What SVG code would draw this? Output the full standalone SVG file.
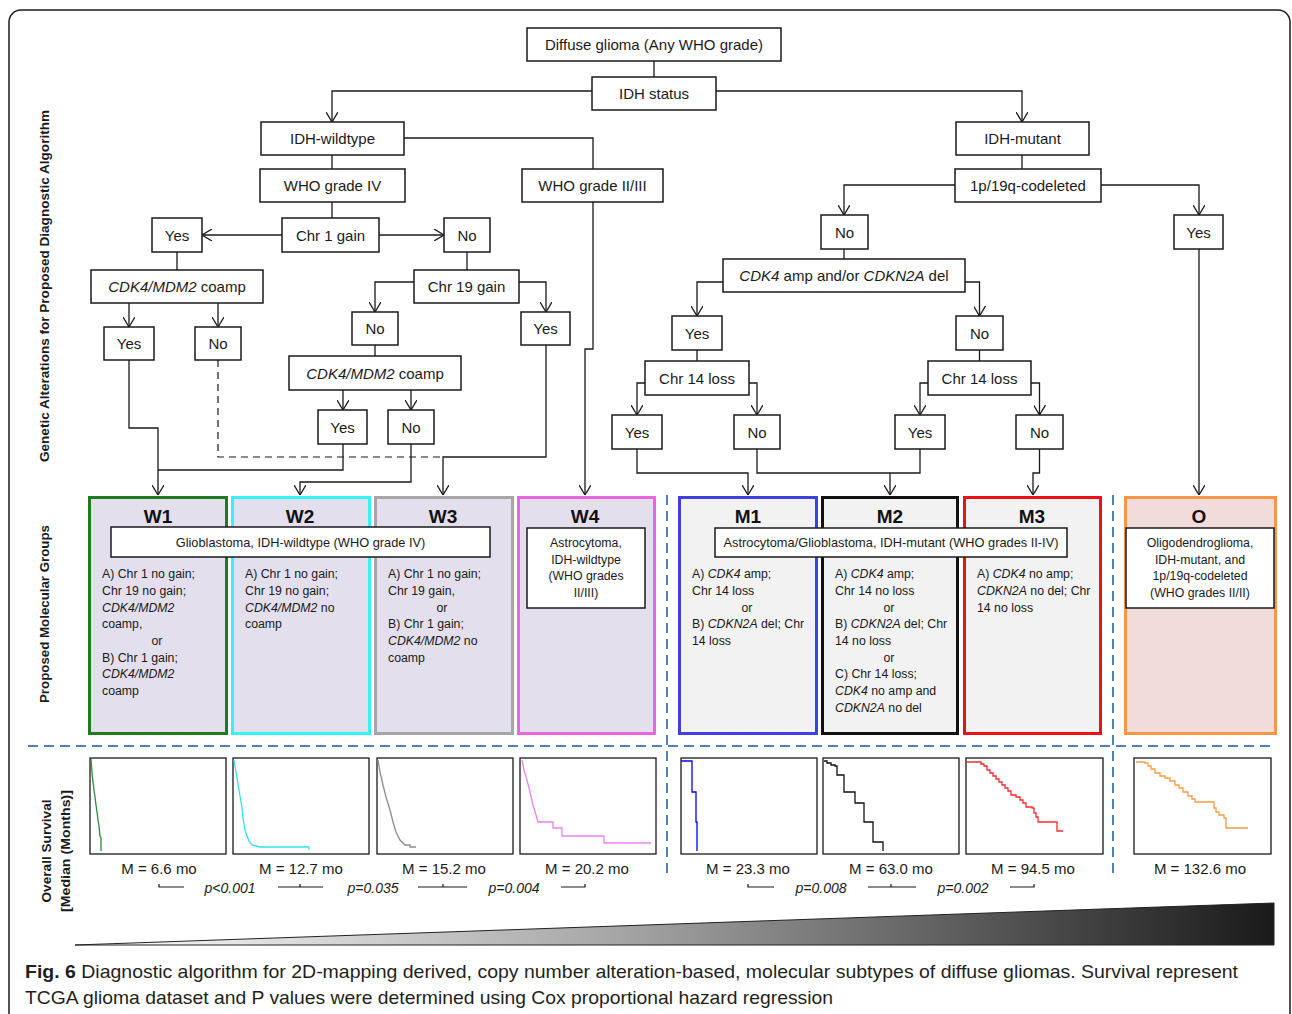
<svg xmlns="http://www.w3.org/2000/svg" width="1292" height="1014" viewBox="0 0 1292 1014">
<defs>
<style>
.box{fill:#fff;stroke:#1a1a1a;stroke-width:1.5}
.lbl{font-family:"Liberation Sans",Arial,sans-serif;font-size:15px;fill:#1a1a1a;text-anchor:middle}
.body{font-family:"Liberation Sans",Arial,sans-serif;font-size:12.3px;fill:#1a1a1a}
.ctr{text-anchor:middle}
.sub{font-family:"Liberation Sans",Arial,sans-serif;font-size:12.8px;fill:#1a1a1a;text-anchor:middle}
.title{font-family:"Liberation Sans",Arial,sans-serif;font-size:19px;font-weight:bold;fill:#111;text-anchor:middle}
.it{font-style:italic}
.conn{fill:none;stroke:#1a1a1a;stroke-width:1.3}
.arr{marker-end:url(#ah)}
.dashk{fill:none;stroke:#1a1a1a;stroke-width:1.2;stroke-dasharray:7 5}
.dash{fill:none;stroke:#4f81bd;stroke-width:2;stroke-dasharray:10 6}
.km{fill:#fff;stroke:#1a1a1a;stroke-width:1.3}
.curve{fill:none;stroke-width:1.3}
.med{font-family:"Liberation Sans",Arial,sans-serif;font-size:15px;fill:#1a1a1a;text-anchor:middle}
.pv{font-family:"Liberation Sans",Arial,sans-serif;font-size:14px;font-style:italic;fill:#1a1a1a;text-anchor:middle}
.brk{fill:none;stroke:#1a1a1a;stroke-width:1.2}
.side{font-family:"Liberation Sans",Arial,sans-serif;font-size:12.5px;font-weight:bold;fill:#1a1a1a;text-anchor:middle}
.cap{font-family:"Liberation Sans",Arial,sans-serif;font-size:19px;fill:#231f20}
.wfill{fill:#e4dfec;stroke-width:3}
.mfill{fill:#f2f2f2;stroke-width:3}
</style>
<marker id="ah" viewBox="0 0 10 12" refX="10" refY="6" markerWidth="10" markerHeight="12" markerUnits="userSpaceOnUse" orient="auto">
<path d="M0,0 L10,6 L0,12" fill="none" stroke="#1a1a1a" stroke-width="1.3"/>
</marker>
<linearGradient id="wedge" x1="75" y1="0" x2="1274" y2="0" gradientUnits="userSpaceOnUse">
<stop offset="0" stop-color="#ffffff"/>
<stop offset="0.45" stop-color="#a6a6a6"/>
<stop offset="1" stop-color="#1a1a1a"/>
</linearGradient>
</defs>
<rect x="0" y="0" width="1292" height="1014" fill="#fff"/>
<rect x="9" y="10" width="1281" height="1030" rx="12" fill="none" stroke="#1a1a1a" stroke-width="1.5"/>

<!-- side labels -->
<g id="side-labels">
<text class="side" transform="translate(44,286) rotate(-90)" y="4.5" textLength="352" lengthAdjust="spacingAndGlyphs">Genetic Alterations for Proposed Diagnostic Algorithm</text>
<text class="side" transform="translate(44,614) rotate(-90)" y="4.5" textLength="178" lengthAdjust="spacingAndGlyphs">Proposed Molecular Groups</text>
<text class="side" transform="translate(46,851) rotate(-90)" y="4.5" textLength="103" lengthAdjust="spacingAndGlyphs">Overall Survival</text>
<text class="side" transform="translate(65,851) rotate(-90)" y="4.5" textLength="122" lengthAdjust="spacingAndGlyphs">[Median (Months)]</text>
</g>

<!-- dashed separators -->
<g id="separators">
<path class="dash" d="M28,746 H1274"/>
<path class="dash" d="M667,495 V878"/>
<path class="dash" d="M1113,495 V878"/>
</g>

<!-- connectors -->
<g id="connectors">
<path class="conn" d="M654,61 V77"/>
<path class="conn arr" d="M592,91 H332 V122"/>
<path class="conn arr" d="M716,91 H1022 V122"/>
<path class="conn" d="M332,155 V169"/>
<path class="conn" d="M404,138 H593 V169"/>
<path class="conn" d="M1022,155 V169"/>
<path class="conn arr" d="M955,185 H844 V215"/>
<path class="conn arr" d="M1101,185 H1199 V215"/>
<path class="conn" d="M332,202 V218"/>
<path class="conn arr" d="M282,235 H202"/>
<path class="conn arr" d="M379,235 H444"/>
<path class="conn" d="M177,252 V270"/>
<path class="conn arr" d="M129,303 V327"/>
<path class="conn arr" d="M218,303 V327"/>
<path class="conn" d="M467,252 V270"/>
<path class="conn arr" d="M414,282 H375 V312"/>
<path class="conn arr" d="M519,282 H546 V312"/>
<path class="conn" d="M375,345 V356"/>
<path class="conn arr" d="M343,390 V410"/>
<path class="conn arr" d="M411,390 V410"/>
<path class="conn arr" d="M129,360 V428 H158 V495"/>
<path class="conn" d="M343,444 V470 H158"/>
<path class="conn arr" d="M411,444 V482 H300 V495"/>
<path class="conn arr" d="M546,345 V457 H443 V495"/>
<path class="dashk" d="M218,360 V457 H443"/>
<path class="conn arr" d="M593,202 V349 H585 V495"/>
<path class="conn" d="M844,249 V259"/>
<path class="conn arr" d="M723,282 H697 V316"/>
<path class="conn arr" d="M965,282 H979.5 V316"/>
<path class="conn" d="M697,350 V361"/>
<path class="conn" d="M979.5,350 V361"/>
<path class="conn arr" d="M645,383 H637 V415"/>
<path class="conn arr" d="M749,383 H757 V415"/>
<path class="conn arr" d="M928,383 H920 V415"/>
<path class="conn arr" d="M1031,383 H1039.5 V415"/>
<path class="conn arr" d="M637,449 V473 H748 V495"/>
<path class="conn" d="M757,449 V473 H920 V449"/>
<path class="conn arr" d="M890,473 V495"/>
<path class="conn arr" d="M1039.5,449 V473 H1033 V495"/>
<path class="conn arr" d="M1199,249 V495"/>
</g>

<!-- tree nodes -->
<g id="n-diffuse"><rect class="box" x="527" y="28" width="254" height="33"/><text class="lbl" x="654" y="50">Diffuse glioma (Any WHO grade)</text></g>
<g id="n-idh"><rect class="box" x="592" y="77" width="124" height="33"/><text class="lbl" x="654" y="99">IDH status</text></g>
<g id="n-wt"><rect class="box" x="261" y="122" width="143" height="33"/><text class="lbl" x="332.5" y="144">IDH-wildtype</text></g>
<g id="n-mut"><rect class="box" x="956" y="122" width="133" height="33"/><text class="lbl" x="1022.5" y="144">IDH-mutant</text></g>
<g id="n-g4"><rect class="box" x="260" y="169" width="145" height="33"/><text class="lbl" x="332.5" y="191">WHO grade IV</text></g>
<g id="n-g23"><rect class="box" x="522" y="169" width="141" height="33"/><text class="lbl" x="592.5" y="191">WHO grade II/III</text></g>
<g id="n-codel"><rect class="box" x="955" y="169" width="146" height="33"/><text class="lbl" x="1028" y="191">1p/19q-codeleted</text></g>
<g id="n-chr1"><rect class="box" x="282" y="218" width="97" height="34"/><text class="lbl" x="330.5" y="240.5">Chr 1 gain</text></g>
<g id="n-yes1"><rect class="box" x="152" y="218" width="50" height="34"/><text class="lbl" x="177" y="240.5">Yes</text></g>
<g id="n-no1"><rect class="box" x="444" y="218" width="46" height="34"/><text class="lbl" x="467" y="240.5">No</text></g>
<g id="n-coampL"><rect class="box" x="91" y="270" width="172" height="33"/><text class="lbl" x="177" y="292"><tspan class="it">CDK4/MDM2</tspan> coamp</text></g>
<g id="n-chr19"><rect class="box" x="414" y="270" width="105" height="33"/><text class="lbl" x="466.5" y="292">Chr 19 gain</text></g>
<g id="n-yesA"><rect class="box" x="104" y="327" width="50" height="33"/><text class="lbl" x="129" y="349">Yes</text></g>
<g id="n-noA"><rect class="box" x="195" y="327" width="46" height="33"/><text class="lbl" x="218" y="349">No</text></g>
<g id="n-no19"><rect class="box" x="352" y="312" width="46" height="33"/><text class="lbl" x="375" y="334">No</text></g>
<g id="n-yes19"><rect class="box" x="521" y="312" width="49" height="33"/><text class="lbl" x="545.5" y="334">Yes</text></g>
<g id="n-coampM"><rect class="box" x="289" y="356" width="172" height="34"/><text class="lbl" x="375" y="378.5"><tspan class="it">CDK4/MDM2</tspan> coamp</text></g>
<g id="n-yesB"><rect class="box" x="318" y="410" width="49" height="34"/><text class="lbl" x="342.5" y="432.5">Yes</text></g>
<g id="n-noB"><rect class="box" x="388" y="410" width="46" height="34"/><text class="lbl" x="411" y="432.5">No</text></g>

<g id="n-nocodel"><rect class="box" x="821" y="215" width="47" height="34"/><text class="lbl" x="844.5" y="237.5">No</text></g>
<g id="n-yescodel"><rect class="box" x="1174" y="215" width="49" height="34"/><text class="lbl" x="1198.5" y="237.5">Yes</text></g>
<g id="n-cdk"><rect class="box" x="723" y="259" width="242" height="33"/><text class="lbl" x="844" y="281"><tspan class="it">CDK4</tspan> amp and/or <tspan class="it">CDKN2A</tspan> del</text></g>
<g id="n-yesC"><rect class="box" x="672" y="316" width="50" height="34"/><text class="lbl" x="697" y="338.5">Yes</text></g>
<g id="n-noC"><rect class="box" x="956" y="316" width="47" height="34"/><text class="lbl" x="979.5" y="338.5">No</text></g>
<g id="n-c14L"><rect class="box" x="645" y="361" width="104" height="34"/><text class="lbl" x="697" y="383.5">Chr 14 loss</text></g>
<g id="n-c14R"><rect class="box" x="928" y="361" width="103" height="34"/><text class="lbl" x="979.5" y="383.5">Chr 14 loss</text></g>
<g id="n-yesD"><rect class="box" x="612" y="415" width="50" height="34"/><text class="lbl" x="637" y="437.5">Yes</text></g>
<g id="n-noD"><rect class="box" x="734" y="415" width="46" height="34"/><text class="lbl" x="757" y="437.5">No</text></g>
<g id="n-yesE"><rect class="box" x="895" y="415" width="50" height="34"/><text class="lbl" x="920" y="437.5">Yes</text></g>
<g id="n-noE"><rect class="box" x="1016" y="415" width="47" height="34"/><text class="lbl" x="1039.5" y="437.5">No</text></g>

<!-- molecular groups -->
<g id="g-W1"><rect class="wfill" x="89.5" y="497.5" width="137" height="236" stroke="#1e7b1e"/><text class="title" x="158" y="523">W1</text>
<text class="body"><tspan x="102" y="578">A) Chr 1 no gain;</tspan><tspan x="102" y="595">Chr 19 no gain;</tspan><tspan x="102" y="612" class="it">CDK4/MDM2</tspan><tspan x="102" y="628">coamp,</tspan><tspan x="157" y="645" class="ctr">or</tspan><tspan x="102" y="662">B) Chr 1 gain;</tspan><tspan x="102" y="678" class="it">CDK4/MDM2</tspan><tspan x="102" y="695">coamp</tspan></text></g>
<g id="g-W2"><rect class="wfill" x="232.5" y="497.5" width="137" height="236" stroke="#33f5f5"/><text class="title" x="300" y="523">W2</text>
<text class="body"><tspan x="245" y="578">A) Chr 1 no gain;</tspan><tspan x="245" y="595">Chr 19 no gain;</tspan><tspan x="245" y="612"><tspan class="it">CDK4/MDM2</tspan> no</tspan><tspan x="245" y="628">coamp</tspan></text></g>
<g id="g-W3"><rect class="wfill" x="375.5" y="497.5" width="137" height="236" stroke="#a6a6a6"/><text class="title" x="443" y="523">W3</text>
<text class="body"><tspan x="388" y="578">A) Chr 1 no gain;</tspan><tspan x="388" y="595">Chr 19 gain,</tspan><tspan x="442" y="612" class="ctr">or</tspan><tspan x="388" y="628">B) Chr 1 gain;</tspan><tspan x="388" y="645"><tspan class="it">CDK4/MDM2</tspan> no</tspan><tspan x="388" y="662">coamp</tspan></text></g>
<g id="g-W4"><rect class="wfill" x="518.5" y="497.5" width="136" height="236" stroke="#ea66dc"/><text class="title" x="585" y="523">W4</text>
<rect class="box" x="527" y="528" width="118" height="80"/>
<text class="body ctr"><tspan x="586" y="547">Astrocytoma,</tspan><tspan x="586" y="564">IDH-wildtype</tspan><tspan x="586" y="580">(WHO grades</tspan><tspan x="586" y="597">II/III)</tspan></text></g>
<g id="gbm-label"><rect class="box" x="111" y="527" width="379" height="30"/><text class="sub" x="300.5" y="546.5">Glioblastoma, IDH-wildtype (WHO grade IV)</text></g>

<g id="g-M1"><rect class="mfill" x="679.5" y="497.5" width="137" height="236" stroke="#4040e0"/><text class="title" x="748" y="523">M1</text>
<text class="body"><tspan x="692" y="578">A) <tspan class="it">CDK4</tspan> amp;</tspan><tspan x="692" y="595">Chr 14 loss</tspan><tspan x="747" y="612" class="ctr">or</tspan><tspan x="692" y="628">B) <tspan class="it">CDKN2A</tspan> del; Chr</tspan><tspan x="692" y="645">14 loss</tspan></text></g>
<g id="g-M2"><rect class="mfill" x="822.5" y="497.5" width="135" height="236" stroke="#111"/><text class="title" x="890" y="523">M2</text>
<text class="body"><tspan x="835" y="578">A) <tspan class="it">CDK4</tspan> amp;</tspan><tspan x="835" y="595">Chr 14 no loss</tspan><tspan x="889" y="612" class="ctr">or</tspan><tspan x="835" y="628">B) <tspan class="it">CDKN2A</tspan> del; Chr</tspan><tspan x="835" y="645">14 no loss</tspan><tspan x="889" y="662" class="ctr">or</tspan><tspan x="835" y="678">C) Chr 14 loss;</tspan><tspan x="835" y="695"><tspan class="it">CDK4</tspan> no amp and</tspan><tspan x="835" y="712"><tspan class="it">CDKN2A</tspan> no del</tspan></text></g>
<g id="g-M3"><rect class="mfill" x="964.5" y="497.5" width="136" height="236" stroke="#ee1111"/><text class="title" x="1032" y="523">M3</text>
<text class="body"><tspan x="977" y="578">A) <tspan class="it">CDK4</tspan> no amp;</tspan><tspan x="977" y="595"><tspan class="it">CDKN2A</tspan> no del; Chr</tspan><tspan x="977" y="612">14 no loss</tspan></text></g>
<g id="astro-label"><rect class="box" x="715" y="528" width="352" height="29"/><text class="sub" x="891" y="547">Astrocytoma/Glioblastoma, IDH-mutant (WHO grades II-IV)</text></g>
<g id="g-O"><rect x="1125.5" y="497.5" width="150" height="236" fill="#f2dcdb" stroke="#f79646" stroke-width="3"/><text class="title" x="1199" y="523">O</text>
<rect class="box" x="1126" y="528" width="148" height="80"/>
<text class="body ctr"><tspan x="1200" y="547">Oligodendroglioma,</tspan><tspan x="1200" y="564">IDH-mutant, and</tspan><tspan x="1200" y="580">1p/19q-codeleted</tspan><tspan x="1200" y="597">(WHO grades II/II)</tspan></text></g>

<!-- survival plots -->
<g id="km-W1"><rect class="km" x="90" y="758" width="136" height="96"/><polyline class="curve" stroke="#2d8a3e" points="91,759 92,773 93,782 94,790 95,797 96,805 97,812 98,820 99,826 100,836 101,838 101,851"/><text class="med" x="159" y="874">M = 6.6 mo</text></g>
<g id="km-W2"><rect class="km" x="233" y="758" width="136" height="96"/><polyline class="curve" stroke="#2ee6ee" points="234,760 236,772 238,784 240,796 242,808 243,818 245,830 247,836 249,841 252,845 256,846 260,847 309,847 309,850"/><text class="med" x="301" y="874">M = 12.7 mo</text></g>
<g id="km-W3"><rect class="km" x="377" y="758" width="136" height="96"/><polyline class="curve" stroke="#8c8c8c" points="378,760 380,772 383,785 386,797 390,810 393,822 396,832 400,840 405,845 410,845 410,847 416,847"/><text class="med" x="444" y="874">M = 15.2 mo</text></g>
<g id="km-W4"><rect class="km" x="520" y="758" width="136" height="96"/><polyline class="curve" stroke="#ee82ee" points="522,760 524,770 527,780 530,792 533,805 536,815 538,822 553,822 553,828 562,828 562,836 604,836 604,843 651,843"/><text class="med" x="587" y="874">M = 20.2 mo</text></g>
<g id="km-M1"><rect class="km" x="681" y="758" width="136" height="96"/><path class="curve" stroke="#0000ff" d="M681,761 H692 V792 H696 V822 H697 V851"/><text class="med" x="748" y="874">M = 23.3 mo</text></g>
<g id="km-M2"><rect class="km" x="823" y="758" width="136" height="96"/><path class="curve" stroke="#111" d="M824,761 H827 V763 H831 V765 H835 V766 H837 V775 H844 V792 H855 V803 H864 V822 H873 V842 H883 V851"/><text class="med" x="891" y="874">M = 63.0 mo</text></g>
<g id="km-M3"><rect class="km" x="966" y="758" width="137" height="96"/><path class="curve" stroke="#ff2a2a" d="M967,762 H981 V764 H984 V766 H987 V770 H990 V773 H993 V776 H996 V779 H999 V782 H1002 V785 H1005 V788 H1008 V791 H1011 V795 H1016 V797 H1020 V800 H1023 V803 H1026 V807 H1032 V808 H1034 V813 H1036 V817 H1038 V822 H1057 V831 H1063"/><text class="med" x="1033" y="874">M = 94.5 mo</text></g>
<g id="km-O"><rect class="km" x="1134" y="758" width="137" height="96"/><path class="curve" stroke="#ff9a3c" d="M1136,762 H1145 V763 H1148 V766 H1151 V769 H1155 V773 H1160 V776 H1165 V778 H1170 V781 H1175 V785 H1179 V788 H1183 V792 H1188 V796 H1192 V799 H1195 V802 H1214 V808 H1216 V812 H1219 V815 H1224 V818 H1226 V828 H1248"/><text class="med" x="1200" y="874">M = 132.6 mo</text></g>

<!-- p-values -->
<g id="pvalues">
<path class="brk" d="M159,884 V887 H184"/>
<path class="brk" d="M278,887 H323 M300,887 V884"/>
<path class="brk" d="M418,887 H467 M443,887 V884"/>
<path class="brk" d="M561,887 H585 V884"/>
<path class="brk" d="M748,884 V887 H774"/>
<path class="brk" d="M868,887 H916 M891,887 V884"/>
<path class="brk" d="M1010,887 H1034 V884"/>
<text class="pv" x="230" y="893">p&lt;0.001</text>
<text class="pv" x="373" y="893">p=0.035</text>
<text class="pv" x="514" y="893">p=0.004</text>
<text class="pv" x="821" y="893">p=0.008</text>
<text class="pv" x="963" y="893">p=0.002</text>
</g>

<!-- survival wedge -->
<polygon id="wedge-shape" points="75,945 1274,903 1274,945" fill="url(#wedge)" stroke="#222" stroke-width="1"/>

<!-- caption -->
<g id="caption">
<text class="cap" x="25" y="978" textLength="1213" lengthAdjust="spacingAndGlyphs"><tspan font-weight="bold">Fig. 6</tspan> Diagnostic algorithm for 2D-mapping derived, copy number alteration-based, molecular subtypes of diffuse gliomas. Survival represent</text>
<text class="cap" x="25" y="1004" textLength="808" lengthAdjust="spacingAndGlyphs">TCGA glioma dataset and P values were determined using Cox proportional hazard regression</text>
</g>
</svg>
